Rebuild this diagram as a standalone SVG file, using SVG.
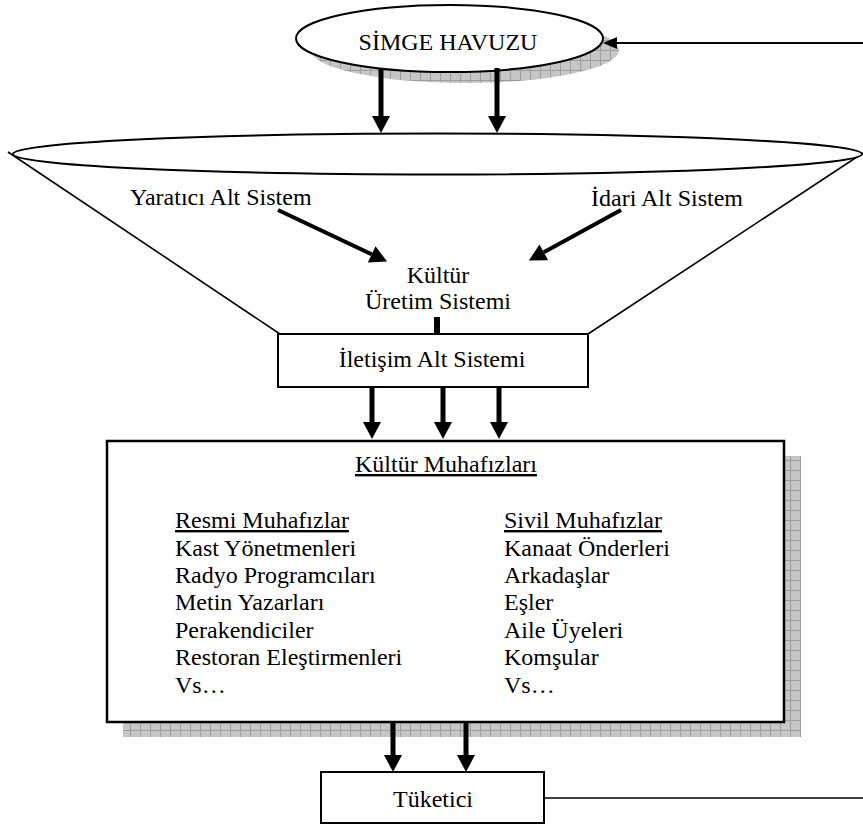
<svg xmlns="http://www.w3.org/2000/svg" width="863" height="826" viewBox="0 0 863 826">
  <style>
    text { font-size: 24px; fill: #000; }
    .mid { text-anchor: middle; }
    .ul { text-decoration: underline; }
    .outline { fill: #fff; stroke: #000; stroke-width: 2; }
    .thin { fill: none; stroke: #000; stroke-width: 1.6; }
    .thick { stroke: #000; stroke-width: 5; fill: none; marker-end: url(#head); }
    .diag { stroke: #000; stroke-width: 4; fill: none; marker-end: url(#head); }
    .shadow { fill: url(#hatch); stroke: none; }
  </style>
  <defs>
    <!-- grey grid texture used for drop shadows -->
    <pattern id="hatch" width="10" height="10" patternUnits="userSpaceOnUse">
      <rect width="10" height="10" fill="#c6c6c6"/>
      <path d="M0,0.5 H10 M0.5,0 V10" stroke="#9c9c9c" stroke-width="1"/>
    </pattern>
    <!-- solid arrowhead; base sits on the line end -->
    <marker id="head" markerUnits="userSpaceOnUse" markerWidth="18" markerHeight="20"
            viewBox="0 -10 18 20" refX="0" refY="0" orient="auto" overflow="visible">
      <path d="M0,-9 L17,0 L0,9 z" fill="#000"/>
    </marker>
    <marker id="smallhead" markerUnits="userSpaceOnUse" markerWidth="14" markerHeight="14"
            viewBox="0 -7 14 14" refX="0" refY="0" orient="auto" overflow="visible">
      <path d="M0,-6 L14,0 L0,6 z" fill="#000"/>
    </marker>
  </defs>

  <g font-family="'Liberation Serif', 'Times New Roman', Times, serif">
  <!-- symbol pool -->
  <g id="simge-havuzu">
    <ellipse class="shadow" cx="465" cy="50" rx="154" ry="33"/>
    <ellipse class="outline" cx="449.5" cy="38.5" rx="153.5" ry="33.5"/>
    <text class="mid" x="448" y="50">SİMGE HAVUZU</text>
  </g>

  <!-- culture production system funnel -->
  <g id="kultur-uretim-sistemi">
    <line class="thin" x1="8" y1="152" x2="280" y2="334"/>
    <line class="thin" x1="863" y1="153" x2="588" y2="334"/>
    <ellipse fill="#fff" stroke="#000" stroke-width="2" cx="437.5" cy="154" rx="424.5" ry="20.5"/>
    <text x="130" y="205">Yaratıcı Alt Sistem</text>
    <text x="591" y="206">İdari Alt Sistem</text>
    <text class="mid" x="438" y="283">Kültür</text>
    <text class="mid" x="438" y="309">Üretim Sistemi</text>
  </g>

  <g id="iletisim-alt-sistemi">
    <rect class="outline" x="278" y="334" width="310" height="53"/>
    <text class="mid" x="432" y="367">İletişim Alt Sistemi</text>
  </g>

  <!-- cultural gatekeepers -->
  <g id="kultur-muhafizlari">
    <rect class="shadow" x="123" y="456" width="678" height="281"/>
    <rect fill="#fff" stroke="#000" stroke-width="2.5" x="107" y="441" width="677" height="281"/>
    <text class="mid ul" x="446" y="472">Kültür Muhafızları</text>
    <text class="ul" x="175" y="528">Resmi Muhafızlar</text>
    <text x="175" y="556">Kast Yönetmenleri</text>
    <text x="175" y="583">Radyo Programcıları</text>
    <text x="175" y="610">Metin Yazarları</text>
    <text x="175" y="638">Perakendiciler</text>
    <text x="175" y="665">Restoran Eleştirmenleri</text>
    <text x="175" y="693">Vs…</text>
    <text class="ul" x="504" y="528">Sivil Muhafızlar</text>
    <text x="504" y="556">Kanaat Önderleri</text>
    <text x="504" y="583">Arkadaşlar</text>
    <text x="504" y="610">Eşler</text>
    <text x="504" y="638">Aile Üyeleri</text>
    <text x="504" y="665">Komşular</text>
    <text x="504" y="693">Vs…</text>
  </g>

  <g id="tuketici">
    <rect class="outline" x="321" y="772" width="223" height="51"/>
    <text class="mid" x="433" y="807">Tüketici</text>
  </g>
  </g>

  <g id="connectors">
    <!-- pool into the funnel -->
    <line class="thick" x1="381" y1="68" x2="381" y2="116"/>
    <line class="thick" x1="497" y1="68" x2="497" y2="116"/>
    <!-- subsystems into production -->
    <line class="diag" x1="278" y1="210" x2="371.7" y2="254.3"/>
    <line class="diag" x1="621" y1="210" x2="543.8" y2="252.3"/>
    <!-- production to communication -->
    <line stroke="#000" stroke-width="6" x1="437" y1="317" x2="437" y2="334"/>
    <!-- communication to gatekeepers -->
    <line class="thick" x1="372" y1="387" x2="372" y2="422"/>
    <line class="thick" x1="443" y1="387" x2="443" y2="422"/>
    <line class="thick" x1="499" y1="387" x2="499" y2="422"/>
    <!-- gatekeepers to consumer -->
    <line class="thick" x1="393" y1="723" x2="393" y2="755"/>
    <line class="thick" x1="466" y1="723" x2="466" y2="755"/>
    <!-- consumer feedback back to the pool -->
    <line class="thin" x1="544" y1="798" x2="863" y2="798"/>
    <line stroke="#000" stroke-width="2" marker-end="url(#smallhead)" x1="863" y1="43" x2="617" y2="43"/>
  </g>
</svg>
